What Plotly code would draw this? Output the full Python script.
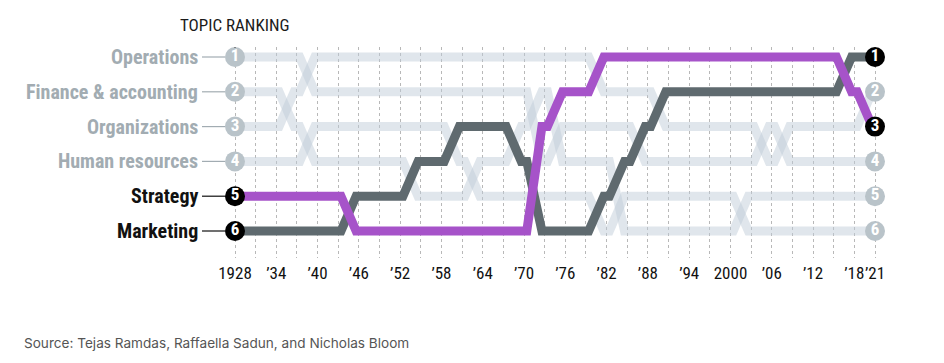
import plotly.graph_objects as go

# ---------------- data ----------------
years = list(range(1928, 2022, 3))  # 1928 ... 2021, every 3 years

topics = ["Operations", "Finance & accounting", "Organizations",
          "Human resources", "Strategy", "Marketing"]

operations = [1, 1, 1, 1, 2, 2, 2, 2, 2, 2, 2, 2, 2, 2, 2, 4,
              3, 3, 3, 3, 4, 4, 4, 4, 4, 4, 3, 4, 4, 4, 4, 4]
finance = [2, 2, 2, 3, 4, 4, 4, 4, 4, 5, 5, 5, 4, 4, 3, 2,
           4, 4, 4, 6, 6, 6, 6, 6, 6, 5, 5, 5, 5, 5, 5, 5]
organizations = [3, 3, 3, 2, 1, 1, 1, 1, 1, 1, 1, 1, 1, 1, 1, 1,
                 1, 1, 2, 2, 2, 3, 3, 3, 3, 3, 4, 3, 3, 3, 3, 2]
human_resources = [4, 4, 4, 4, 3, 3, 3, 3, 3, 3, 3, 4, 5, 5, 5, 5,
                   5, 5, 6, 5, 5, 5, 5, 5, 5, 6, 6, 6, 6, 6, 6, 6]
strategy = [5, 5, 5, 5, 5, 5, 6, 6, 6, 6, 6, 6, 6, 6, 6, 3,
            2, 2, 1, 1, 1, 1, 1, 1, 1, 1, 1, 1, 1, 1, 2, 3]
marketing = [6, 6, 6, 6, 6, 6, 5, 5, 5, 4, 4, 3, 3, 3, 4, 6,
             6, 6, 5, 4, 3, 2, 2, 2, 2, 2, 2, 2, 2, 2, 1, 1]

series = [operations, finance, organizations, human_resources, strategy, marketing]
highlighted = ["Strategy", "Marketing"]

label_years = [1928, 1934, 1940, 1946, 1952, 1958, 1964, 1970, 1976, 1982,
               1988, 1994, 2000, 2006, 2012, 2018, 2021]
tick_labels = ["1928", "’34", "’40", "’46", "’52", "’58", "’64", "’70", "’76",
               "’82", "’88", "’94", "2000", "’06", "’12", "’18", "’21"]

source_text = "Source: Tejas Ramdas, Raffaella Sadun, and Nicholas Bloom"
title_text = "TOPIC RANKING"

# ---------------- style ----------------
NARROW = "Liberation Sans Narrow, Arial Narrow, Roboto Condensed, sans-serif"
LIGHT_LINE = "rgba(190,202,216,0.48)"
LIGHT_DOT = "#b9c3c9"
LIGHT_TEXT = "#a2acb2"
LINE_COLORS = {"Strategy": "#a653c9", "Marketing": "#5f6a6f"}
LW = 9
FLAT = 0.4  # short flat step drawn at each data point (years)

OFF = 8  # page body margin
W, H = 944 - OFF, 363 - OFF
X_FIRST_PX, X_LAST_PX = 235, 875
Y_FIRST_PX, Y_LAST_PX = 57, 231
PLOT_L, PLOT_R, PLOT_T, PLOT_B = 190, 896, 47, 258

ML = PLOT_L - OFF
MT = PLOT_T - OFF
MR = 944 - PLOT_R
MB = 363 - PLOT_B

plot_w = PLOT_R - PLOT_L
plot_h = PLOT_B - PLOT_T
px_per_year = (X_LAST_PX - X_FIRST_PX) / (years[-1] - years[0])
x_start = years[0] - (X_FIRST_PX - PLOT_L) / px_per_year
x_end = x_start + plot_w / px_per_year
px_per_rank = (Y_LAST_PX - Y_FIRST_PX) / 5
y_top = 1 - (Y_FIRST_PX - PLOT_T) / px_per_rank
y_bot = y_top + plot_h / px_per_rank


def stepped(xs, ys):
    ox, oy = [xs[0]], [ys[0]]
    for i, (x, y) in enumerate(zip(xs, ys)):
        if i > 0:
            ox.append(x - FLAT)
            oy.append(y)
        if i < len(xs) - 1:
            ox.append(x + FLAT)
            oy.append(y)
        else:
            ox.append(x)
            oy.append(y)
    return ox, oy


fig = go.Figure()

order = [t for t in topics if t not in highlighted] + ["Marketing", "Strategy"]
for name in order:
    vals = series[topics.index(name)]
    sx, sy = stepped(years, vals)
    color = LINE_COLORS.get(name, LIGHT_LINE)
    fig.add_trace(go.Scatter(x=sx, y=sy, mode="lines",
                             line=dict(color=color, width=LW),
                             hoverinfo="skip", showlegend=False))

for name in topics:
    vals = series[topics.index(name)]
    dot = "#000000" if name in highlighted else LIGHT_DOT
    fig.add_trace(go.Scatter(
        x=[years[0], years[-1]], y=[vals[0], vals[-1]],
        mode="markers+text",
        marker=dict(size=20, color=dot, line=dict(width=0)),
        text=[str(vals[0]), str(vals[-1])],
        textposition="middle center",
        textfont=dict(family=NARROW, size=17, color="white", weight="bold"),
        hoverinfo="skip", showlegend=False))

for name in topics:
    vals = series[topics.index(name)]
    col = "#111111" if name in highlighted else LIGHT_TEXT
    fig.add_annotation(x=years[0], y=vals[0], xref="x", yref="y",
                       text=name, showarrow=False, xanchor="right",
                       yanchor="middle", xshift=-35,
                       font=dict(family=NARROW, size=20, color=col, weight="bold"))
    fig.add_shape(type="line", xref="x", yref="y", xsizemode="pixel",
                  xanchor=years[0], x0=-33, x1=-10, y0=vals[0], y1=vals[0],
                  line=dict(color=col, width=1.2), layer="below")

fig.add_annotation(x=years[0], y=1, xref="x", yref="y", text=title_text,
                   showarrow=False, xanchor="center", yanchor="middle",
                   yshift=32, font=dict(family=NARROW, size=17, color="#1a1a1a"))
fig.add_shape(type="line", xref="x", yref="y", ysizemode="pixel",
              x0=years[0], x1=years[0], yanchor=1, y0=9, y1=22,
              line=dict(color="#444444", width=1))

fig.add_annotation(xref="paper", yref="paper",
                   x=(22 - PLOT_L) / plot_w, y=(PLOT_B - 343) / plot_h,
                   text=source_text, showarrow=False, xanchor="left",
                   yanchor="middle",
                   font=dict(family="Inter, Liberation Sans, sans-serif",
                             size=13.6, color="#555555"))

fig.update_layout(
    width=W, height=H,
    margin=dict(l=ML, r=MR, t=MT, b=MB, autoexpand=False),
    paper_bgcolor="white", plot_bgcolor="white",
    xaxis=dict(range=[x_start, x_end], tickmode="array",
               tickvals=label_years, ticktext=tick_labels, tickangle=0,
               tickfont=dict(family=NARROW, size=17, color="#111111"),
               ticks="", showline=False, zeroline=False,
               showgrid=True, gridcolor="#b8b8b8", gridwidth=1,
               griddash="3px,3px", ticklabelstandoff=3,
               minor=dict(tickmode="array", tickvals=years, showgrid=True,
                          gridcolor="#b8b8b8", gridwidth=1,
                          griddash="3px,3px")),
    yaxis=dict(range=[y_bot, y_top], showgrid=False, zeroline=False,
               showticklabels=False, ticks="", showline=False),
)

fig.write_html("out.html")
